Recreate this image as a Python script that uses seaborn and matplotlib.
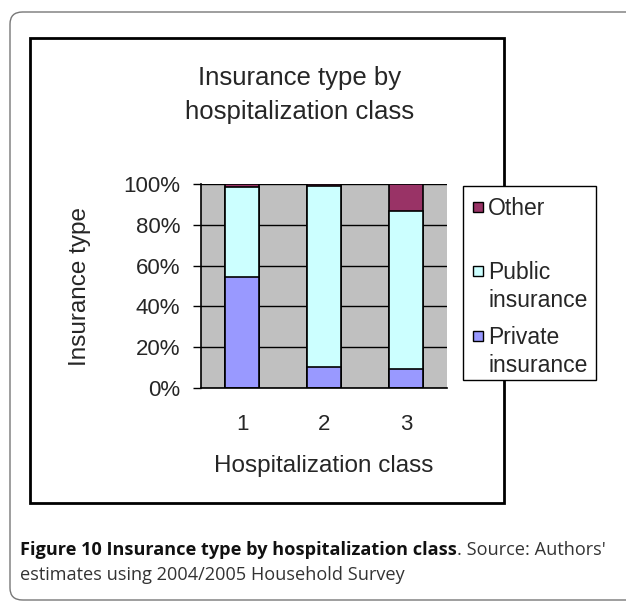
import numpy as np
import pandas as pd
import seaborn as sns
import matplotlib.pyplot as plt
from matplotlib.patches import Rectangle, FancyBboxPatch

classes = ['1', '2', '3']
private = [54.4, 10.3, 9.3]
public = [44.1, 88.9, 77.6]
other = [1.5, 0.8, 13.1]

series = ['Other', 'Public\ninsurance', 'Private\ninsurance']
colors = {'Other': '#993366', 'Public\ninsurance': '#CCFFFF', 'Private\ninsurance': '#9999FF'}

df = pd.DataFrame({'cls': classes, 'private': private, 'public': public, 'other': other})
# cumulative heights so the stacked look comes out of overlapping bars
df['top_private'] = df['private']
df['top_public'] = df['private'] + df['public']
df['top_other'] = df['top_public'] + df['other']

sns.set_style('white')
plt.rcParams['font.family'] = ['Liberation Sans', 'DejaVu Sans']

W, H = 626, 604
fig = plt.figure(figsize=(W / 100, H / 100), dpi=100)

def fx(px):
    return px / W

def fy(py):
    return 1 - py / H

# outer rounded frame and the inner black chart border
fig.patches.append(FancyBboxPatch((fx(10), fy(600)), fx(640) - fx(10), fy(12) - fy(600),
                                  boxstyle='round,pad=0,rounding_size=0.02',
                                  transform=fig.transFigure, fill=False,
                                  edgecolor='#777777', linewidth=1.0))
fig.patches.append(Rectangle((fx(30), fy(503)), fx(504) - fx(30), fy(38) - fy(503),
                             transform=fig.transFigure, fill=False,
                             edgecolor='black', linewidth=2.0))

ax = fig.add_axes([fx(201), fy(388), fx(447) - fx(201), fy(184) - fy(388)])
ax.set_facecolor('#C0C0C0')
ax.set_axisbelow(True)
ax.yaxis.grid(True, color='black', linewidth=1.0)

for col, name in [('top_other', 'Other'), ('top_public', 'Public\ninsurance'),
                  ('top_private', 'Private\ninsurance')]:
    sns.barplot(data=df, x='cls', y=col, color=colors[name], saturation=1,
                width=0.41, edgecolor='black', linewidth=1.2, ax=ax)

ax.set_xlim(-0.5, 2.5)
ax.set_ylim(0, 100)
ax.set_yticks(np.arange(0, 101, 20))
ax.set_yticklabels([f'{v}%' for v in range(0, 101, 20)], fontsize=16)
ax.set_xticks(range(3))
ax.set_xticklabels(classes, fontsize=16)
ax.set_xticks([-0.5, 0.5, 1.5, 2.5], minor=True)
ax.tick_params(axis='x', which='major', length=0, pad=19)
ax.tick_params(axis='x', which='minor', length=7, width=1.0, color='black', direction='out')
ax.tick_params(axis='y', length=6, width=1.0, color='black', direction='out', left=True, pad=9)
for s in ['top', 'right']:
    ax.spines[s].set_visible(False)
for s in ['left', 'bottom']:
    ax.spines[s].set_color('black')
    ax.spines[s].set_linewidth(1.2)
ax.set_xlabel('Hospitalization class', fontsize=17.5, labelpad=14)
ax.set_ylabel('Insurance type', fontsize=17.5, labelpad=23)

fig.text(fx(300), fy(95), 'Insurance type by\nhospitalization class', ha='center', va='center',
         fontsize=18.5, linespacing=1.55)

# legend box
fig.patches.append(Rectangle((fx(463), fy(380)), fx(596) - fx(463), fy(186) - fy(380),
                             transform=fig.transFigure, facecolor='white',
                             edgecolor='black', linewidth=1.0))
legend_rows = [('Other', 207), ('Public\ninsurance', 271), ('Private\ninsurance', 336)]
for name, ypx in legend_rows:
    fig.patches.append(Rectangle((fx(473), fy(ypx + 5)), fx(10), fx(10) * W / H,
                                 transform=fig.transFigure, facecolor=colors[name],
                                 edgecolor='black', linewidth=1.0))
    fig.text(fx(488), fy(ypx - 10), name, ha='left', va='top', fontsize=16.5, linespacing=1.3)

# caption: bold part, then the rest right after it
cap = fig.text(fx(20), fy(550), 'Figure 10 Insurance type by hospitalization class',
               ha='left', va='center', fontsize=13.1, family='Open Sans', weight='bold',
               color='#111111')
fig.canvas.draw()
bb = cap.get_window_extent()
fig.text(bb.x1 / W, fy(550), ". Source: Authors'",
         ha='left', va='center', fontsize=13.1, family='Open Sans', color='#333333')
fig.text(fx(20), fy(575), 'estimates using 2004/2005 Household Survey',
         ha='left', va='center', fontsize=13.1, family='Open Sans', color='#333333')

fig.savefig('out.png', dpi=100)
